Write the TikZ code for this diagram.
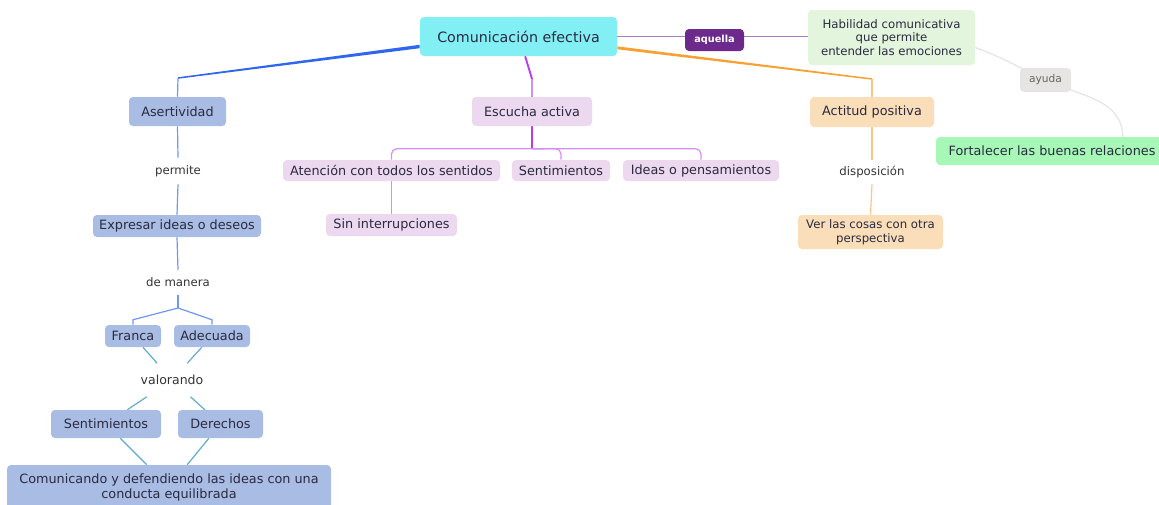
\documentclass[tikz,border=0pt]{standalone}
\usepackage{fontspec}
\setmainfont{DejaVu Sans}
\usetikzlibrary{calc}
\pgfdeclarelayer{bg}
\pgfsetlayers{bg,main}
\definecolor{txt}{HTML}{2A2A40}
\definecolor{lbltxt}{HTML}{333333}
\definecolor{aytxt}{HTML}{666666}
\definecolor{cCom}{HTML}{82EFF5}
\definecolor{cAq}{HTML}{6C2A8C}
\definecolor{cHab}{HTML}{E3F5DC}
\definecolor{cAy}{HTML}{E7E4E4}
\definecolor{cFort}{HTML}{A7F7B7}
\definecolor{cAs}{HTML}{A9BCE3}
\definecolor{cEs}{HTML}{ECD8EF}
\definecolor{cAc}{HTML}{FADDB9}
\definecolor{lBlue}{HTML}{2F66F0}
\definecolor{lBlueL}{HTML}{6F96F5}
\definecolor{lPur}{HTML}{B53CF0}
\definecolor{lPurL}{HTML}{D48FF6}
\definecolor{lOr}{HTML}{F8A030}
\definecolor{lOrL}{HTML}{F9C688}
\definecolor{lAq}{HTML}{A77DC6}
\definecolor{lGray}{HTML}{E6E6E6}
\definecolor{lTeal}{HTML}{62AACD}
\newcommand\myfL{\fontsize{10.7}{12.8}\selectfont}
\newcommand\myfN{\fontsize{9.6}{11.25}\selectfont}
\newcommand\myfS{\fontsize{8.8}{10.3}\selectfont}
\newcommand\myfT{\fontsize{8}{9.6}\selectfont}
\newcommand\myfA{\fontsize{7.3}{8.8}\selectfont\bfseries}
\tikzset{
  box/.style={rounded corners=3pt, inner sep=0pt, align=center, text=txt, font=\myfN},
  lbl/.style={inner sep=0pt, align=center, text=lbltxt, font=\myfS, minimum width=52pt},
  conn/.style={line width=0.9pt},
}
\begin{document}
\begin{tikzpicture}[x=0.75pt,y=-0.75pt]
\useasboundingbox (0,0) rectangle (1159,504);
\clip (0,0) rectangle (1159,504);

% top level
\node[box,fill=cCom,font=\myfL,minimum width=147.75pt,minimum height=29.25pt] (com) at (518.5,36.5) {Comunicación efectiva};
\node[box,fill=cAq,text=white,font=\myfA,minimum width=44.25pt,minimum height=16.5pt] (aq) at (714.5,40) {aquella};
\node[box,fill=cHab,font=\myfS,minimum width=125.25pt,minimum height=41.25pt] (hab) at (891.5,37.5) {Habilidad comunicativa\\que permite\\entender las emociones};
\node[box,fill=cAy,text=aytxt,font=\myfT,minimum width=38.25pt,minimum height=18pt] (ay) at (1045.5,80) {ayuda};
\node[box,fill=cFort,minimum width=174pt,minimum height=21pt] (fort) at (1052,151) {Fortalecer las buenas relaciones};

% asertividad branch
\node[box,fill=cAs,minimum width=72.75pt,minimum height=21.75pt] (asert) at (177.5,111.5) {Asertividad};
\node[lbl,minimum height=19.5pt] (perm) at (178,171) {permite};
\node[box,fill=cAs,minimum width=126pt,minimum height=16.5pt] (expr) at (177,226) {Expresar ideas o deseos};
\node[lbl,minimum height=18.75pt] (dem) at (178,282.5) {de manera};
\coordinate (fork) at (178,308);
\node[box,fill=cAs,minimum width=42pt,minimum height=16.5pt] (franca) at (133,336) {Franca};
\node[box,fill=cAs,minimum width=57pt,minimum height=16.5pt] (adec) at (212,336) {Adecuada};
\node[lbl,font=\fontsize{9.4}{11}\selectfont,minimum width=52.5pt,minimum height=24.75pt] (valor) at (172,380) {valorando};
\node[box,fill=cAs,minimum width=82.5pt,minimum height=21pt] (sentA) at (106,424) {Sentimientos};
\node[box,fill=cAs,minimum width=63.75pt,minimum height=21pt] (der) at (220.5,424) {Derechos};
\node[box,fill=cAs,minimum width=243pt,minimum height=33pt,font=\fontsize{9.6}{11.25}\selectfont] (comun) at (169,487) {Comunicando y defendiendo las ideas con una\\conducta equilibrada};

% escucha branch
\node[box,fill=cEs,minimum width=90pt,minimum height=21.75pt] (esc) at (532,111.5) {Escucha activa};
\node[box,fill=cEs,minimum width=162.75pt,minimum height=15.75pt] (aten) at (391.5,170.5) {Atención con todos los sentidos};
\node[box,fill=cEs,minimum width=73.5pt,minimum height=15.75pt] (sentB) at (561,170.5) {Sentimientos};
\node[box,fill=cEs,minimum width=117pt,minimum height=15.75pt] (ideas) at (701,170.5) {Ideas o pensamientos};
\node[box,fill=cEs,minimum width=98.25pt,minimum height=16.5pt] (sinint) at (391.5,225) {Sin interrupciones};
\coordinate (bar) at (532,149);

% actitud branch
\node[box,fill=cAc,minimum width=93pt,minimum height=22.5pt] (act) at (872,112) {Actitud positiva};
\node[lbl,minimum height=18pt] (disp) at (872,172) {disposición};
\node[box,fill=cAc,font=\myfS,minimum width=108.75pt,minimum height=25.5pt] (ver) at (870.5,232) {Ver las cosas con otra\\perspectiva};

\coordinate (b1) at (178,78);
\coordinate (b2) at (532,79);
\coordinate (b3) at (872,79);

\begin{pgfonlayer}{bg}
  % main branches (tapered)
  \fill[lBlue] ([yshift=-6.2pt]com.west) -- ([yshift=0.55pt]b1) -- ([yshift=-0.55pt]b1) -- ([yshift=-8.8pt]com.west) -- cycle;
  \draw[lBlueL,conn] (b1) -- (asert.north);
  \draw[lPur,line width=1.4pt] ([xshift=5pt]com.south) -- (b2);
  \draw[lPurL,conn] (b2) -- (esc.north);
  \fill[lOr] ([yshift=-7.4pt]com.east) -- ([yshift=0.55pt]b3) -- ([yshift=-0.55pt]b3) -- ([yshift=-9.6pt]com.east) -- cycle;
  \draw[lOrL,conn] (b3) -- (act.north);
  % aquella
  \draw[lAq,conn] (com.east) -- (com.east -| hab.west);
  % ayuda curve
  \draw[lGray,line width=1pt] ([yshift=-7.5pt]hab.east) to[out=-20,in=155] (ay.center) to[out=-25,in=90] ([xshift=53pt]fort.north);
  % asertividad chain
  \draw[lBlueL,conn] (asert.south) -- (perm.north);
  \draw[lBlueL,conn] (perm.south) -- (expr.north);
  \draw[lBlueL,conn] (expr.south) -- (dem.north);
  \draw[lBlueL,conn] (dem.south) -- (fork);
  \draw[lBlueL,conn] (fork) -- ([yshift=3.75pt]franca.north) -- (franca.north);
  \draw[lBlueL,conn] (fork) -- ([yshift=3.75pt]adec.north) -- (adec.north);
  \draw[lTeal,conn] (franca) -- (valor);
  \draw[lTeal,conn] (adec) -- (valor);
  \draw[lTeal,conn] (valor) -- (sentA);
  \draw[lTeal,conn] (valor) -- (der);
  \draw[lTeal,conn] (sentA) -- (comun);
  \draw[lTeal,conn] (der) -- (comun);
  % escucha chain
  \draw[lPur,line width=1.4pt] (esc.south) -- (bar);
  \draw[lPurL,conn,rounded corners=4pt] (aten.north) -- ([yshift=8.25pt]aten.north) -- ([yshift=8.25pt]ideas.north) -- (ideas.north);
  \draw[lPurL,conn,rounded corners=4pt] (bar) -- ([yshift=8.25pt]sentB.north) -- (sentB.north);
  \draw[lPurL,conn] (aten.south) -- (sinint.north);
  % actitud chain
  \draw[lOrL,conn] (act.south) -- (disp.north);
  \draw[lOrL,conn] (disp.south) -- (ver.north);
\end{pgfonlayer}
\end{tikzpicture}
\end{document}
